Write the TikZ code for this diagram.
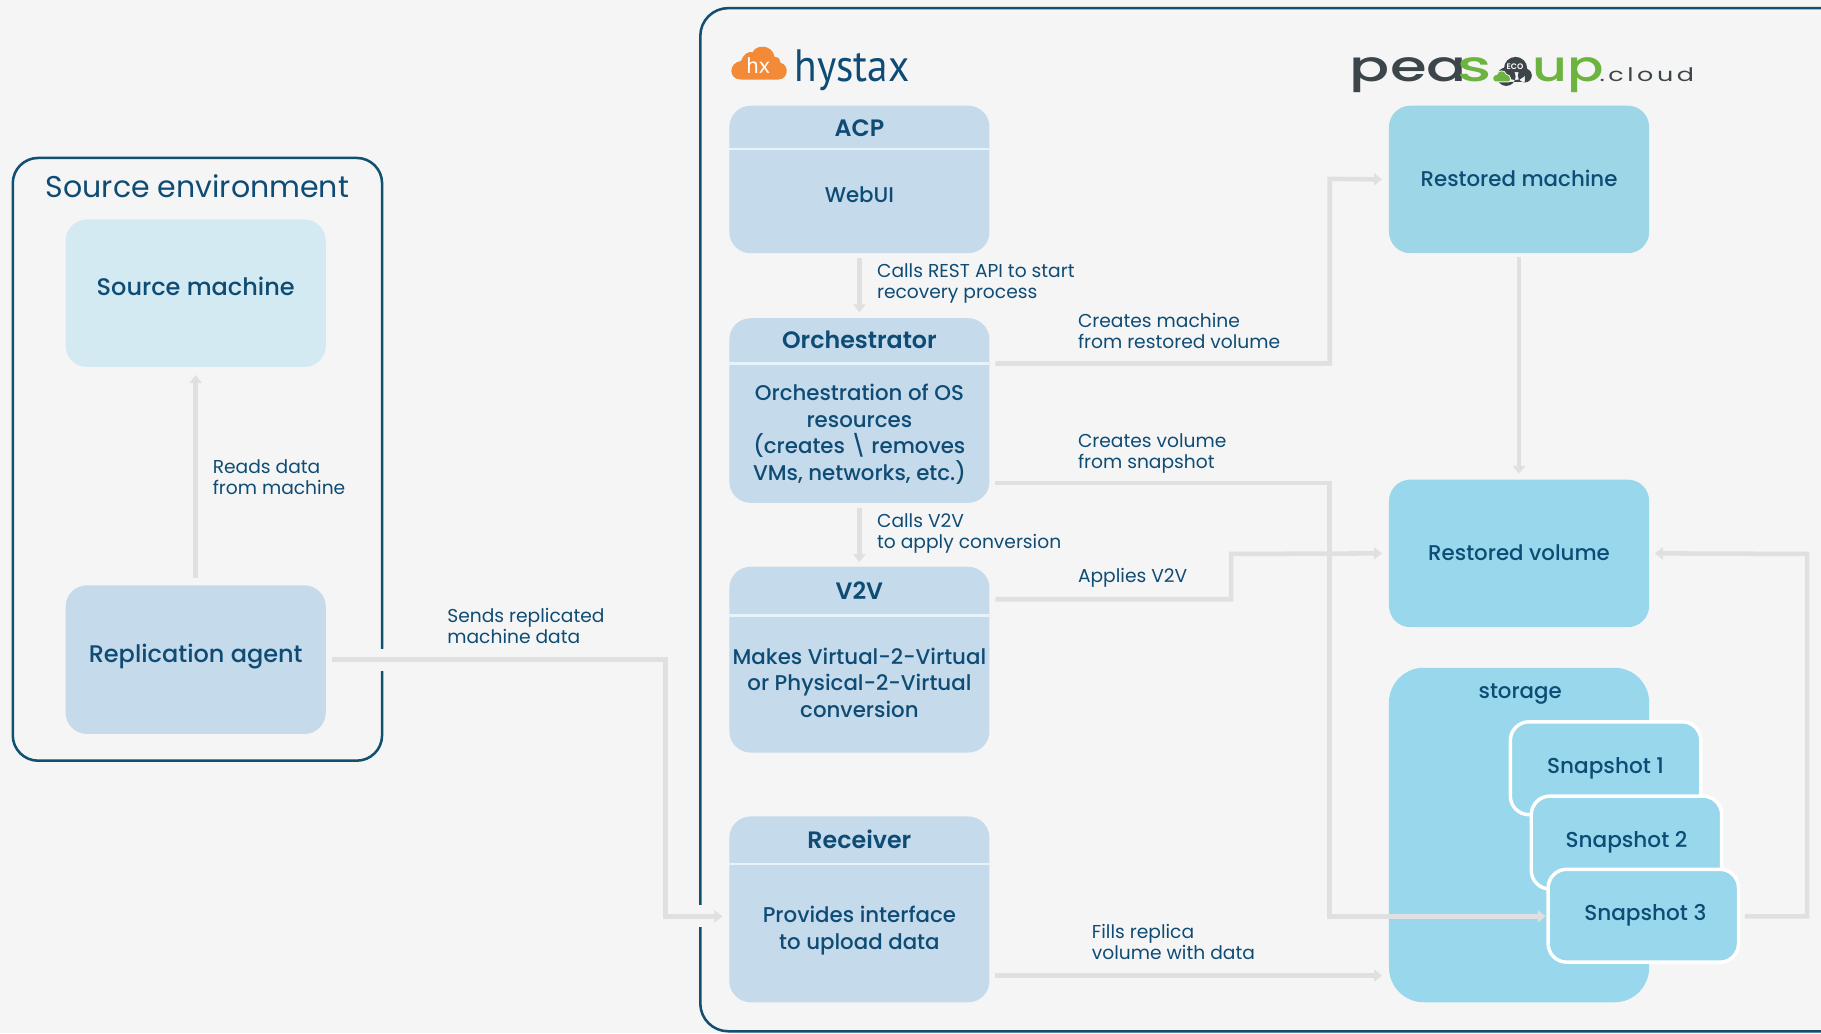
\documentclass[tikz,border=0pt]{standalone}
\usepackage{fontspec}
\setmainfont{Poppins}
\newfontfamily\medfont{Poppins Medium}
\newfontfamily\semifont{Poppins SemiBold}
\newfontfamily\logofont{PT Sans}
\newfontfamily\dotfont[LetterSpace=14]{Poppins}
\usetikzlibrary{arrows.meta,calc}
\def\un{0.87105pt}
\definecolor{bgc}{HTML}{F5F5F5}
\definecolor{ink}{HTML}{0F4C75}
\definecolor{frame}{HTML}{11506F}
\definecolor{pale}{HTML}{C5DAEB}
\definecolor{palest}{HTML}{D4EAF2}
\definecolor{aqua}{HTML}{9DD6E6}
\definecolor{sky}{HTML}{98D7EC}
\definecolor{wire}{HTML}{E0E0E0}
\definecolor{sepc}{HTML}{E6F3FA}
\definecolor{orng}{HTML}{F28A38}
\definecolor{peagreen}{HTML}{6CB33F}
\definecolor{peadark}{HTML}{3C4549}
\tikzset{
 panel/.style={draw=frame,line width=1.9pt,rounded corners=19pt},
 card/.style={rounded corners=16pt,minimum width=224*\un,inner sep=0pt,outer sep=0pt},
 boxtext/.style={text=ink,font=\medfont\fontsize{16}{20}\selectfont,align=center,inner sep=0pt},
 bigtext/.style={text=ink,font=\medfont\fontsize{18}{20}\selectfont,align=center,inner sep=0pt},
 headtext/.style={text=ink,font=\semifont\fontsize{17.8}{20}\selectfont,inner sep=0pt},
 note/.style={text=ink,font=\fontsize{14}{15.7}\selectfont,align=left,anchor=west,inner sep=0pt},
 snap/.style={fill=sky,draw=white,line width=2.6pt,rounded corners=14pt,minimum width=164*\un,minimum height=80*\un,inner sep=0pt,text=ink,font=\medfont\fontsize{16.2}{20}\selectfont},
 link/.style={draw=wire,line width=3.4pt,-{Triangle[length=6pt,width=9pt]}},
 divider/.style={draw=sepc,line width=1.6pt},
 peabig/.style={font=\medfont\fontsize{32}{40}\selectfont,inner sep=0pt,anchor=base west}
}
\begin{document}
\begin{tikzpicture}[x=\un,y=-\un]
\useasboundingbox (0,0) rectangle (1568,889.5);
\fill[bgc] (0,0) rectangle (1568,889.5);
% frames
\draw[panel] (11,136) rectangle (329,655);
\node[text=ink,font=\fontsize{22.5}{24}\selectfont,inner sep=0pt] (srcenv) at (170,160.5) {Source environment};
\draw[frame,line width=1.9pt] (1570,7) -- (627,7) arc[start angle=-90,end angle=-180,radius=24] -- (603,864) arc[start angle=180,end angle=90,radius=24] -- (1570,888);
% left
\node[card,fill=palest,minimum height=127*\un] (source) at (168.5,252.5) {};
\node[bigtext] (sourcet) at (168.5,247) {Source machine};
\node[card,fill=pale,minimum height=128*\un] (agent) at (168.5,568) {};
\node[bigtext] (agentt) at (168.5,565) {Replication agent};
% hystax cards
\node[card,fill=pale,minimum height=127*\un] (acp) at (740,154.5) {};
\draw[divider] (acp.west |- 0,128) -- (acp.east |- 0,128);
\node[headtext] (acph) at (740,110) {ACP};
\node[boxtext] (acpb) at (740,168) {WebUI};
\node[card,fill=pale,minimum height=159*\un] (orch) at (740,353.5) {};
\draw[divider] (orch.west |- 0,313) -- (orch.east |- 0,313);
\node[headtext] (orchh) at (740,292.5) {Orchestrator};
\node[boxtext] (orchb) at (740,374) {Orchestration of OS\\resources\\(creates \textbackslash{} removes\\VMs, networks, etc.)};
\node[card,fill=pale,minimum height=160*\un] (vtv) at (740,568) {};
\draw[divider] (vtv.west |- 0,530) -- (vtv.east |- 0,530);
\node[headtext] (vtvh) at (740,508.5) {V2V};
\node[boxtext] (vtvb) at (740,588) {Makes Virtual-2-Virtual\\or Physical-2-Virtual\\conversion};
\node[card,fill=pale,minimum height=160*\un] (recv) at (740,783) {};
\draw[divider] (recv.west |- 0,744) -- (recv.east |- 0,744);
\node[headtext] (recvh) at (740,723) {Receiver};
\node[boxtext] (recvb) at (740,801.5) {Provides interface\\to upload data};
% right
\node[card,fill=aqua,minimum height=127*\un] (rmach) at (1308,154.5) {};
\node[boxtext] (rmacht) at (1308,153.5) {Restored machine};
\node[card,fill=sky,minimum height=127*\un] (rvol) at (1308,476.5) {};
\node[boxtext] (rvolt) at (1308,476) {Restored volume};
\node[card,fill=sky,minimum height=288*\un,rounded corners=26pt] (stor) at (1308,719) {};
\node[boxtext] (stort) at (1309,598) {storage};
\node[snap] (snapa) at (1382.5,661.5) {Snapshot 1};
\node[snap] (snapb) at (1400.5,725.5) {Snapshot 2};
% connectors
\draw[link] (agent.north) ++(0,-6) -- (source.south |- 0,323);
\fill[bgc] (325,559) rectangle (333,578);
\fill[bgc] (599,779) rectangle (607,798);
\draw[link] ($(agent.east)+(5,0)$) -| (573,789) -- ($(recv.west)+(-6,6)$);
\draw[link] ($(acp.south)+(0,4)$) -- ($(orch.north)+(0,-5)$);
\draw[link] ($(orch.south)+(0,4)$) -- ($(vtv.north)+(0,-4)$);
\draw[link] ($(orch.east)+(5,-40.5)$) -| (1145,154) -- ($(rmach.west)+(-6,0)$);
\draw[link] ($(orch.east)+(5,62.5)$) -| (1145,789) -- (1331,789);
\draw[link] ($(vtv.east)+(5,-52)$) -| (1060,477) -- ($(rvol.west)+(-6,0)$);
\draw[link] ($(rmach.south)+(0,3)$) -- ($(rvol.north)+(0,-5)$);
\draw[link] ($(recv.east)+(5,57)$) -- ($(stor.west)+(-6,121)$);
\node[snap] (snapc) at (1415,788.5) {\hspace*{3pt}\raisebox{-1.5pt}{Snapshot 3}};
\draw[link] ($(snapc.east)+(4,0.5)$) -| (1556,477) -- ($(rvol.east)+(5,0)$);
% labels
\node[note] (la) at (183,411) {Reads data\\from machine};
\node[note] (lb) at (385,539) {Sends replicated\\machine data};
\node[note] (lc) at (755,244.5) {Calls REST API to start\\recovery process};
\node[note] (ld) at (755,459.5) {Calls V2V\\to apply conversion};
\node[note] (le) at (928,285) {Creates machine\\from restored volume};
\node[note] (lf) at (928,390.5) {Creates volume\\from snapshot};
\node[note] (lg) at (928,497.5) {Applies V2V};
\node[note] (lh) at (940,811) {Fills replica\\volume with data};
% hystax logo
\fill[orng] (638,68.5) .. controls (627,68.5) and (627,54) .. (638,52.5) .. controls (640,47) and (644,44) .. (648,45) .. controls (651,38) and (665,38) .. (667,49) .. controls (671,49) and (672,52) .. (672,54) .. controls (680,56) and (679,68.5) .. (670,68.5) -- cycle;
\node[text=white,font=\logofont\fontsize{17}{18}\selectfont,inner sep=0pt,anchor=base] (hx) at (653,63) {hx};
\node[text=ink,font=\logofont\fontsize{34}{36}\selectfont,inner sep=0pt,anchor=base west,xscale=0.91] (hys) at (684,70) {hystax};
% peasoup logo
\node[text=peadark,peabig,xscale=1.39] (pea) at (1162,70.5) {pea};
\node[text=peagreen,peabig,xscale=1.5] (peas) at (1254.5,70.5) {s};
\fill[peadark] (1297,66) circle (8) (1305,59) circle (10) (1313,65) circle (6) (1295,62) rectangle (1313,70.5);
\node[text=white,font=\semifont\fontsize{6}{7}\selectfont,inner sep=0pt] (eco) at (1304.5,57.5) {ECO};
\fill[peagreen,draw=bgc,line width=0.6pt] (1287,70.5) .. controls (1283,67) and (1287,64) .. (1289,64) .. controls (1290,60) and (1296,60) .. (1297,64) .. controls (1301,64) and (1302,70.5) .. (1299,70.5) -- cycle;
\node[text=peagreen,peabig,xscale=1.26] (peaup) at (1319,70.5) {up};
\node[text=peadark,font=\dotfont\fontsize{14}{18}\selectfont,inner sep=0pt,anchor=base west,xscale=1.36] (pead) at (1377,70.5) {.cloud};
\end{tikzpicture}
\end{document}
